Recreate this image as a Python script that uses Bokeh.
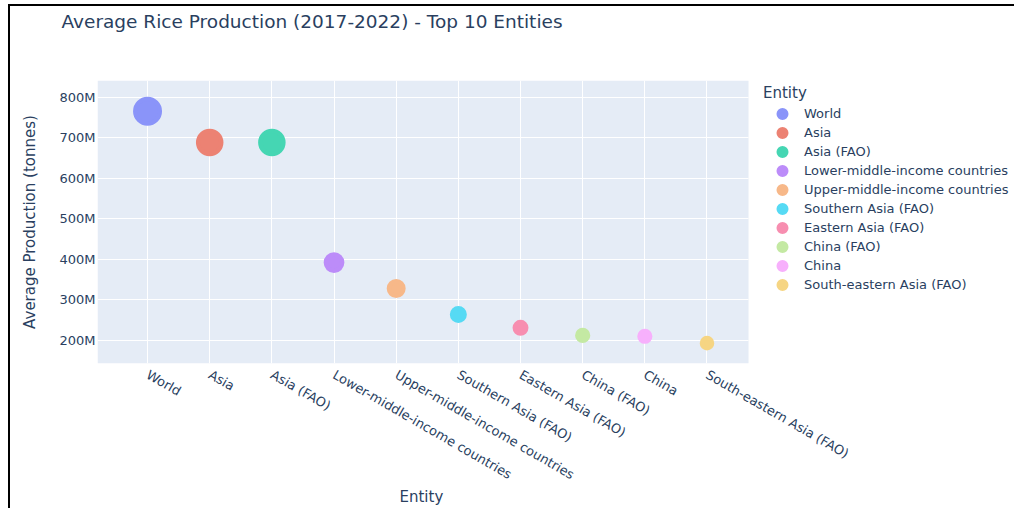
import math
import numpy as np
from bokeh.plotting import figure
from bokeh.models import (Range1d, FixedTicker, CustomJSTickFormatter, Legend,
                          LegendItem, ColumnDataSource, Title, BoxAnnotation)
from bokeh.embed import file_html
from bokeh.resources import INLINE

# ---- data ----
entities = ["World", "Asia", "Asia (FAO)", "Lower-middle-income countries",
            "Upper-middle-income countries", "Southern Asia (FAO)",
            "Eastern Asia (FAO)", "China (FAO)", "China",
            "South-eastern Asia (FAO)"]
avg_production = [766e6, 689e6, 689e6, 392e6, 328e6, 264e6, 231e6, 212e6, 210e6, 193e6]
colors = ["#636EFA", "#EF553B", "#00CC96", "#AB63FA", "#FFA15A",
          "#19D3F3", "#FF6692", "#B6E880", "#FF97FF", "#FECB52"]
y_ticks = [200e6, 300e6, 400e6, 500e6, 600e6, 700e6, 800e6]

FONT = "DejaVu Sans"
TXT = "#2a3f5f"
PLOT_BG = "#E5ECF6"
ALPHA = 0.7
X_START, X_PLOT_END, X_FRAME_END = -0.805, 9.668, 13.979
RING = 4.4


def blend(hex_color, a, bg=PLOT_BG):
    r, g, b = (int(hex_color[i:i + 2], 16) for i in (1, 3, 5))
    R, G, B = (int(bg[i:i + 2], 16) for i in (1, 3, 5))
    mix = lambda c, k: int(round(c * a + k * (1 - a)))
    return "#%02x%02x%02x" % (mix(r, R), mix(g, G), mix(b, B))


x_pos = list(range(len(entities)))
vals = np.array(avg_production)
sizes = 29 * np.sqrt(vals / vals.max())

p = figure(width=1006, height=504, output_backend="svg", toolbar_location=None,
           x_range=Range1d(X_START, X_FRAME_END), y_range=Range1d(142.7e6, 842e6),
           min_border_left=87, min_border_top=74, min_border_right=0,
           min_border_bottom=147)
p.styles = {"margin-left": "10px", "margin-top": "6px",
            "box-shadow": "-2px -2px 0 0 black"}
p.background_fill_color = "white"
p.border_fill_color = "white"
p.outline_line_color = None

# plot area background
p.add_layout(BoxAnnotation(right=X_PLOT_END, fill_color=PLOT_BG, fill_alpha=1,
                           line_color=None, level="image"))

p.title.text = "Average Rice Production (2017-2022) - Top 10 Entities"
p.title.text_font = FONT
p.title.text_font_size = "18.5px"
p.title.text_font_style = "normal"
p.title.text_color = TXT
p.title.align = "left"
p.title.offset = -36
p.title.standoff = 0
# spacer between title and plot area
p.add_layout(Title(text=" ", text_font_size="1px", standoff=46), "above")

items = []
for i, ent in enumerate(entities):
    src = ColumnDataSource(dict(x=[x_pos[i]], y=[avg_production[i]],
                                s=[sizes[i] - RING]))
    c = blend(colors[i], ALPHA)
    r = p.scatter("x", "y", size="s", source=src, fill_color=c,
                  line_color=c, line_width=RING)
    items.append(LegendItem(label=ent, renderers=[r]))

# axes
xa = p.xaxis[0]
xa.ticker = FixedTicker(ticks=x_pos)
xa.major_label_overrides = {i: e for i, e in enumerate(entities)}
xa.major_label_orientation = -math.pi / 6
ya = p.yaxis[0]
ya.ticker = FixedTicker(ticks=y_ticks)
ya.formatter = CustomJSTickFormatter(code="return (tick/1e6).toFixed(0) + 'M';")
for ax in (xa, ya):
    ax.axis_line_color = None
    ax.major_tick_line_color = None
    ax.minor_tick_line_color = None
    ax.major_tick_out = 0
    ax.major_tick_in = 0
    ax.minor_tick_out = 0
    ax.minor_tick_in = 0
    ax.major_label_text_font = FONT
    ax.major_label_text_font_size = "13px"
    ax.major_label_text_color = TXT
    ax.axis_label_text_font = FONT
    ax.axis_label_text_font_size = "15px"
    ax.axis_label_text_font_style = "normal"
    ax.axis_label_text_color = TXT
ya.axis_label = "Average Production (tonnes)"
xa.major_label_standoff = 10
ya.major_label_standoff = 2
ya.axis_label_standoff = 17

# x axis title, centred under the plot area
p.add_layout(Title(text="Entity", align="left", offset=302, standoff=-12,
                   text_font=FONT, text_font_size="15px",
                   text_font_style="normal", text_color=TXT), "below")

p.xgrid.grid_line_color = "white"
p.ygrid.grid_line_color = "white"
p.xgrid.grid_line_width = 1
p.ygrid.grid_line_width = 1
p.ygrid.cross_bounds = (X_START, X_PLOT_END)

legend = Legend(items=items, location=(666, 69), title="Entity",
                title_text_font=FONT, title_text_font_size="15px",
                title_text_font_style="normal", title_text_color=TXT,
                label_text_font=FONT, label_text_font_size="13px",
                label_text_color=TXT, glyph_width=38, glyph_height=19,
                label_height=19, spacing=0, label_standoff=3, padding=0,
                margin=0, title_standoff=2, background_fill_alpha=0,
                border_line_color=None)
p.add_layout(legend, "center")

open("out.html", "w").write(file_html(p, INLINE))
